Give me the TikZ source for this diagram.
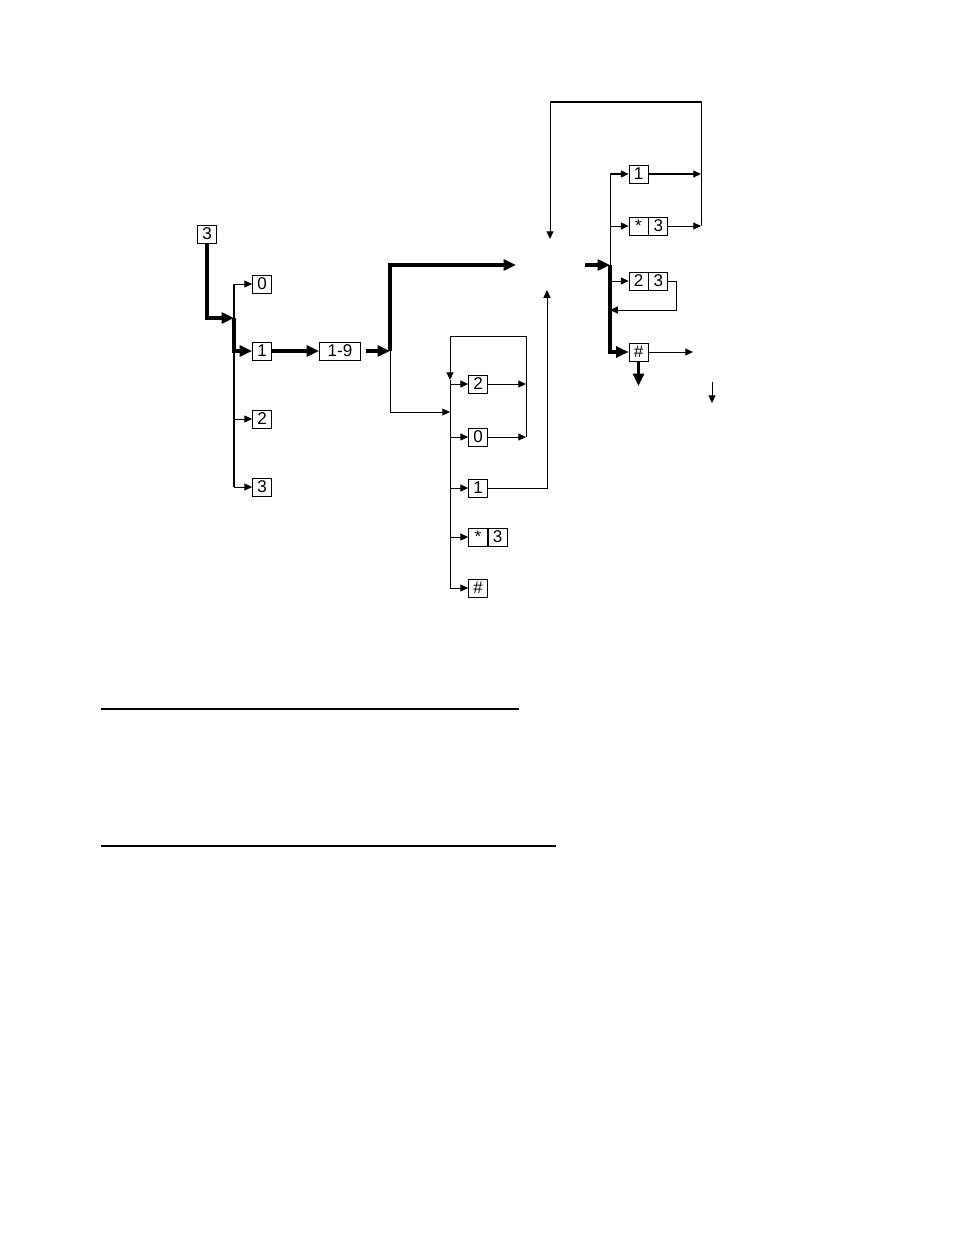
\documentclass[tikz,border=0pt]{standalone}
\usepackage{fontspec}
\setmainfont{Liberation Sans}
\usetikzlibrary{arrows.meta,positioning}

\newcommand{\keystar}{\raisebox{-0.5ex}{*}}

\begin{document}
\begin{tikzpicture}[x=0.2268mm,y=-0.2268mm,
    key/.style={draw,line width=0.5pt,minimum width=4.3mm,minimum height=4.1mm,inner sep=0pt,font=\fontsize{11}{12}\selectfont},
    wire/.style={line width=0.65pt},
    flow/.style={wire,-{Triangle[length=5pt,width=4.5pt]}},
    bold/.style={line width=2.2pt},
    boldflow/.style={bold,-{Triangle[length=8pt,width=7pt]}}]
  \useasboundingbox (0,0) rectangle (954,1235);

  % First digit and its branches
  \node[key] (first) at (207,234) {3};
  \node[key] (a0) at (262,284) {0};
  \node[key] (a1) at (262,351) {1};
  \node[key] (a2) at (262,419) {2};
  \node[key] (a3) at (262,487) {3};
  \coordinate (busA) at (234,318);
  \coordinate (busAtop) at (234,284);
  \coordinate (busAbot) at (234,487);
  \draw[boldflow] (first.south) |- (busA);
  \draw[wire] (busAtop) -- (busAbot);
  \draw[boldflow] (busA) |- (a1.west);
  \draw[flow] (busAtop) -- (a0.west);
  \draw[flow] (a2.west -| busA) -- (a2.west);
  \draw[flow] (busAbot) -- (a3.west);

  % Area digits
  \node[key,minimum width=9.3mm] (area) at (340,351) {1-9};
  \draw[boldflow] (a1.east) -- (area.west);
  \coordinate (busB) at (390,351);
  \coordinate (busBtop) at (390,265);
  \coordinate (busBbot) at (390,412);
  \coordinate (goTop) at (516,265);
  \draw[boldflow,shorten <=3pt] (area.east) -- (busB);
  \draw[boldflow] (busB) -- (busBtop) -- (goTop);
  \draw[wire] (busB) -- (busBbot);

  % Second group
  \node[key] (b2) at (478,384) {2};
  \node[key] (b0) at (478,437) {0};
  \node[key] (b1) at (478,488) {1};
  \node[key] (bstar) at (478,537) {\keystar};
  \node[key,right=0pt of bstar] (b3) {3};
  \node[key] (bhash) at (478,588) {\#};
  \coordinate (busCtop) at (450,336);
  \coordinate (busCin) at (450,380);
  \coordinate (busCbot) at (450,588);
  \coordinate (loopC) at (526,336);
  \coordinate (upC) at (547,290);
  \draw[flow] (busBbot) -- (busBbot -| busCtop);
  \draw[flow] (b0.east) -- (b0.east -| loopC);
  \draw[flow] (b2.east) -- (b2.east -| loopC);
  \draw[flow] (b0.east -| loopC) -- (loopC) -- (busCtop) -- (busCin);
  \draw[wire] (busCin) -- (busCbot);
  \foreach \k in {b2,b0,b1,bstar}
    \draw[flow] (\k.west -| busCtop) -- (\k.west);
  \draw[flow] (busCbot) -- (bhash.west);
  \draw[flow] (b1.east) -| (upC);

  % Third group
  \node[key] (c1) at (638.5,174) {1};
  \node[key] (cstar) at (638.5,226) {\keystar};
  \node[key,right=0pt of cstar] (c3) {3};
  \node[key] (c2) at (638.5,281) {2};
  \node[key,right=0pt of c2] (c23) {3};
  \node[key] (chash) at (638.5,352) {\#};
  \coordinate (inD) at (585,265);
  \coordinate (busD) at (610,265);
  \coordinate (busDtop) at (610,174);
  \coordinate (loopDtop) at (701,102);
  \coordinate (downD) at (550,239);
  \coordinate (loopE) at (676,310);
  \coordinate (backD) at (610,310);
  \coordinate (outD) at (693,352);
  \coordinate (endD) at (638.5,386);
  \draw[boldflow] (inD) -- (busD);
  \draw[wire] (busDtop) -- (busD);
  \draw[boldflow] (busD) |- (chash.west);
  \draw[flow] (busDtop) -- (c1.west);
  \draw[flow] (cstar.west -| busD) -- (cstar.west);
  \draw[flow] (c2.west -| busD) -- (c2.west);
  \draw[flow] (c1.east) -- (c1.east -| loopDtop);
  \draw[flow] (c3.east) -- (c3.east -| loopDtop);
  \draw[flow] (c3.east -| loopDtop) -- (loopDtop) -| (downD);
  \draw[flow] (c23.east) -| (loopE) -- (backD);
  \draw[flow] (chash.east) -- (outD);
  \draw[boldflow] (chash.south) -- (endD);
  \coordinate (lone) at (712,382);
  \coordinate (loneEnd) at (712,403);
  \draw[flow] (lone) -- (loneEnd);

  % Rules
  \draw[line width=0.8pt] (101,709) -- (519,709);
  \draw[line width=0.8pt] (101,846) -- (556,846);
\end{tikzpicture}
\end{document}
